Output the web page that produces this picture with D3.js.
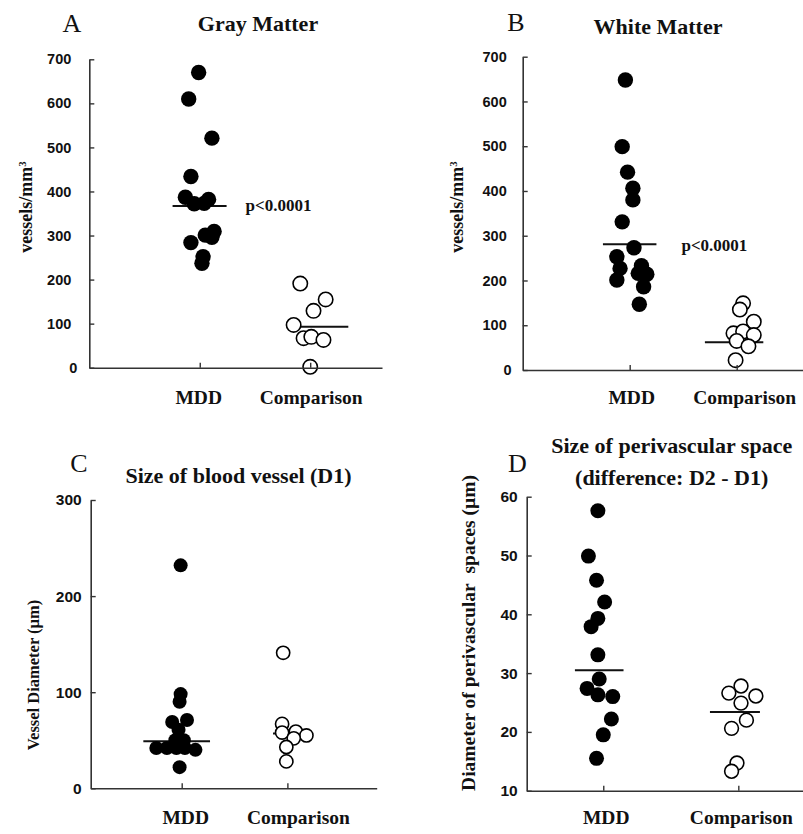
<!DOCTYPE html>
<html>
<head>
<meta charset="utf-8">
<script src="https://cdn.jsdelivr.net/npm/d3@7"></script>
<style>
body { margin: 0; background: #fff; }
.tick text { font-family: "Liberation Sans", Arial, sans-serif; font-weight: bold; fill: #111; }
.serif { font-family: "Liberation Serif", "Times New Roman", serif; font-weight: bold; fill: #111; }
</style>
</head>
<body>
<svg id="fig" width="803" height="834"></svg>
<script>
var categories = ["MDD", "Comparison"];

// A - gray matter, vessels/mm3
var grayMDD   = [670, 610, 521, 434, 387, 372, 373, 382, 301, 309, 296, 284, 252, 237];
var grayMDDx  = [0.99, 0.90, 1.11, 0.92, 0.87, 0.95, 1.04, 1.08, 1.05, 1.13, 1.11, 0.92, 1.03, 1.02];
var grayComp  = [191, 155, 129, 97, 67, 70, 63, 2];
var grayCompx = [1.91, 2.14, 2.03, 1.85, 1.94, 2.01, 2.12, 2.00];
var grayMeans = [367, 93];
var grayTicks = [0, 100, 200, 300, 400, 500, 600, 700];

// B - white matter, vessels/mm3
var whiteMDD   = [648, 499, 442, 406, 380, 331, 273, 253, 227, 201, 233, 216, 214, 186, 147];
var whiteMDDx  = [0.96, 0.93, 0.98, 1.03, 1.03, 0.93, 1.04, 0.88, 0.91, 0.88, 1.11, 1.08, 1.16, 1.13, 1.09];
var whiteComp  = [149, 135, 108, 82, 86, 78, 65, 53, 22];
var whiteCompx = [2.06, 2.03, 2.16, 1.97, 2.06, 2.16, 2.00, 2.11, 1.99];
var whiteMeans = [281, 62];
var whiteTicks = [0, 100, 200, 300, 400, 500, 600, 700];

// C - vessel diameter D1, um
var vesselMDD   = [232, 98, 90, 69, 71, 61, 50, 50, 42, 42, 42, 42, 40, 22];
var vesselMDDx  = [0.99, 0.99, 0.98, 0.91, 1.05, 0.97, 0.94, 1.02, 0.76, 0.86, 0.95, 1.03, 1.13, 0.98];
var vesselComp  = [141, 67, 58, 59, 55, 52, 43, 28];
var vesselCompx = [1.96, 1.95, 1.95, 2.08, 2.18, 2.06, 1.99, 1.99];
var vesselMeans = [49, 57];
var vesselTicks = [0, 100, 200, 300];

// D - perivascular space D2 - D1, um
var pvsMDD   = [57.6, 49.9, 45.8, 42.1, 39.3, 37.9, 33.1, 29.0, 27.4, 26.3, 26.0, 22.2, 19.5, 15.5];
var pvsMDDx  = [0.96, 0.89, 0.95, 1.01, 0.96, 0.91, 0.96, 0.97, 0.88, 0.96, 1.07, 1.06, 1.00, 0.95];
var pvsComp  = [27.8, 26.6, 26.1, 24.9, 22.0, 20.6, 14.7, 13.3];
var pvsCompx = [2.02, 1.93, 2.13, 2.02, 2.06, 1.95, 1.99, 1.95];
var pvsMeans = [30.5, 23.4];
var pvsTicks = [10, 20, 30, 40, 50, 60];

var letters = ["A", "B", "C", "D"];
var titles = [["Gray Matter"], ["White Matter"], ["Size of blood vessel (D1)"],
              ["Size of perivascular space", "(difference: D2 - D1)"]];
var yLabels = [["vessels/mm", "3"], ["vessels/mm", "3"], ["Vessel Diameter (\u00b5m)", ""],
               ["Diameter of perivascular\u00a0 spaces (\u00b5m)", ""]];
var pValues = ["p<0.0001", "p<0.0001", null, null];

var data = [
  {mdd: grayMDD, mddX: grayMDDx, comp: grayComp, compX: grayCompx, means: grayMeans, ticks: grayTicks},
  {mdd: whiteMDD, mddX: whiteMDDx, comp: whiteComp, compX: whiteCompx, means: whiteMeans, ticks: whiteTicks},
  {mdd: vesselMDD, mddX: vesselMDDx, comp: vesselComp, compX: vesselCompx, means: vesselMeans, ticks: vesselTicks},
  {mdd: pvsMDD, mddX: pvsMDDx, comp: pvsComp, compX: pvsCompx, means: pvsMeans, ticks: pvsTicks}
];

// layout of each panel, in page pixels
var layout = [
  {yDomain: [0, 700], yRange: [367.7, 59.3], xDomain: [0, 2.65], xRange: [89.3, 382],
   tickPad: 18, tickSize: 14.5, zeroShift: 6, r: [7.7, 7.2], meanSpan: [[0.754, 1.243], [1.844, 2.345]],
   letterPos: [72, 31.7], titlePos: [258, 30.7], titleSize: 22,
   yLabelPos: [32, 207], yLabelSize: 18, labelDx: [-1, 1], labelY: 404, pDx: 19, pDy: 5},
  {yDomain: [0, 700], yRange: [370, 56.7], xDomain: [0, 2.62], xRange: [522.7, 803],
   tickPad: 16, tickSize: 14.5, zeroShift: 5, r: [7.7, 7.2], meanSpan: [[0.75, 1.25], [1.703, 2.249]],
   letterPos: [516, 30.7], titlePos: [658, 34], titleSize: 22,
   yLabelPos: [463, 207], yLabelSize: 18, labelDx: [2, 8], labelY: 404, pDx: 25, pDy: 6.5},
  {yDomain: [0, 300], yRange: [788.3, 500], xDomain: [0.139, 2.845], xRange: [90.7, 376.7],
   tickPad: 9, tickSize: 15.5, zeroShift: 0, r: [7, 6.6], meanSpan: [[0.637, 1.268], [1.864, 2.21]],
   letterPos: [79, 471.7], titlePos: [238.5, 483], titleSize: 22,
   yLabelPos: [38.5, 675], yLabelSize: 16.5, labelDx: [4, 11], labelY: 824},
  {yDomain: [10, 60], yRange: [790.7, 496.7], xDomain: [0.433, 2.479], xRange: [526.7, 803],
   tickPad: 9, tickSize: 15.5, zeroShift: 0, r: [7.5, 6.9], meanSpan: [[0.79, 1.15], [1.79, 2.16]],
   letterPos: [517.5, 471.7], titlePos: [671.7, 453], titleSize: 22,
   yLabelPos: [474.5, 633], yLabelSize: 19.5, labelDx: [3, 3], labelY: 824}
];

var svg = d3.select("#fig");

data.forEach(function(d, i) {
  var L = layout[i];
  var g = svg.append("g").attr("class", "panel");

  var y = d3.scaleLinear().domain(L.yDomain).range(L.yRange);
  var x = d3.scaleLinear().domain(L.xDomain).range(L.xRange);

  // panel letter and title
  g.append("text")
    .attr("x", L.letterPos[0]).attr("y", L.letterPos[1])
    .attr("text-anchor", "middle")
    .style("font-family", "'Liberation Serif', 'Times New Roman', serif")
    .style("font-size", "26px")
    .style("fill", "#111")
    .text(letters[i]);

  var t = g.append("text").attr("class", "serif")
    .attr("text-anchor", "middle")
    .attr("x", L.titlePos[0]).attr("y", L.titlePos[1])
    .style("font-size", L.titleSize + "px");
  titles[i].forEach(function(line, k) {
    t.append("tspan").attr("x", L.titlePos[0]).attr("dy", k === 0 ? 0 : "1.45em").text(line);
  });

  // y label
  var yl = g.append("text").attr("class", "serif")
    .attr("text-anchor", "middle")
    .attr("transform", "translate(" + L.yLabelPos[0] + "," + L.yLabelPos[1] + ") rotate(-90)")
    .style("font-size", L.yLabelSize + "px");
  yl.append("tspan").text(yLabels[i][0]);
  if (yLabels[i][1]) {
    yl.append("tspan").attr("dy", "-0.55em").style("font-size", "0.6em").text(yLabels[i][1]);
  }

  // mean lines
  g.selectAll(".mean").data(d.means).enter().append("line")
    .attr("class", "mean")
    .attr("x1", function(m, k) { return x(L.meanSpan[k][0]); })
    .attr("x2", function(m, k) { return x(L.meanSpan[k][1]); })
    .attr("y1", function(m) { return y(m); })
    .attr("y2", function(m) { return y(m); })
    .style("stroke", "#111")
    .style("stroke-width", 2);

  // MDD filled dots
  g.selectAll(".mdd").data(d.mdd).enter().append("circle")
    .attr("class", "mdd")
    .attr("cx", function(v, k) { return x(d.mddX[k]); })
    .attr("cy", function(v) { return y(v); })
    .attr("r", L.r[0])
    .style("fill", "#000");

  // comparison open circles
  g.selectAll(".comp").data(d.comp).enter().append("circle")
    .attr("class", "comp")
    .attr("cx", function(v, k) { return x(d.compX[k]); })
    .attr("cy", function(v) { return y(v); })
    .attr("r", L.r[1])
    .style("fill", "#fff")
    .style("stroke", "#000")
    .style("stroke-width", 1.6);

  if (pValues[i]) {
    g.append("text").attr("class", "serif")
      .attr("x", x(L.meanSpan[0][1]) + L.pDx)
      .attr("y", y(d.means[0]) + L.pDy)
      .style("font-size", "17px")
      .text(pValues[i]);
  }

  // axes
  var yAxis = g.append("g")
    .attr("transform", "translate(" + L.xRange[0] + ",0)")
    .call(d3.axisLeft(y).tickValues(d.ticks).tickSize(-5).tickSizeOuter(0).tickPadding(L.tickPad));
  yAxis.selectAll(".tick text")
    .style("font-size", L.tickSize + "px")
    .attr("dx", function(v) { return v === 0 ? L.zeroShift : 0; });

  var xAxis = g.append("g")
    .attr("transform", "translate(0," + L.yRange[0] + ")")
    .call(d3.axisBottom(x).tickValues([1, 2]).tickSize(-5).tickSizeOuter(0).tickFormat(""));

  [yAxis, xAxis].forEach(function(a) {
    a.select(".domain").style("stroke", "#333").style("stroke-width", 1.6);
    a.selectAll(".tick line").style("stroke", "#333").style("stroke-width", 1.4);
  });

  // category labels
  g.selectAll(".cat").data(categories).enter().append("text")
    .attr("class", "serif cat")
    .attr("text-anchor", "middle")
    .attr("x", function(c, k) { return x(k + 1) + L.labelDx[k]; })
    .attr("y", L.labelY)
    .style("font-size", "19.5px")
    .text(function(c) { return c; });
});
</script>
</body>
</html>
